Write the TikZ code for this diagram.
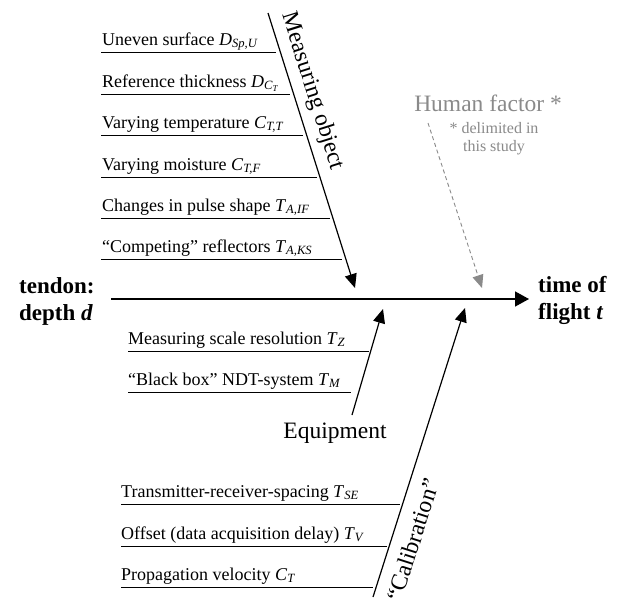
\documentclass[tikz,border=0pt]{standalone}
\usepackage{fontspec}
\setmainfont{Liberation Serif}
\usetikzlibrary{arrows.meta}
\newcommand{\sym}[2]{\textit{#1}\textsubscript{\textit{#2}}}
\definecolor{hgray}{RGB}{138,138,138}
\begin{document}
\begin{tikzpicture}[x=1pt,y=-1pt,
  lbl/.style={anchor=base west, inner sep=0pt, font=\fontsize{18}{20}\selectfont},
  uline/.style={line width=1pt},
  branch/.style={line width=1.2pt, -{Triangle[length=14pt,width=12pt]}},
  spine/.style={line width=1.5pt, -{Triangle[length=14pt,width=15pt]}},
  cat/.style={inner sep=0pt, font=\fontsize{23.5}{27}\selectfont},
  endlbl/.style={inner sep=0pt, anchor=north west, align=left, font=\fontsize{23}{27}\selectfont\bfseries},
  human/.style={line width=0.9pt, hgray, dash pattern=on 4pt off 3pt, -{Triangle[length=13pt,width=11pt]}}
]
\fill[white] (0,0) rectangle (621,597);
\useasboundingbox (0,0) rectangle (621,597);

% end labels and spine
\node[endlbl] (cause) at (19,277.5) {tendon:\\depth \textit{d}};
\node[endlbl] (effect) at (538,276.5) {time of\\flight \textit{t}};
\coordinate (sp0) at (111,299);
\coordinate (sp1) at (529,299);
\draw[spine] (sp0) -- (sp1);

% Measuring object branch
\coordinate (mo0) at (268,13);
\coordinate (mo1) at (355,288);
\draw[branch] (mo0) -- node[cat, sloped, above=7.5pt, pos=0.305] (molbl) {Measuring object} (mo1);

\node[lbl] (m1) at (102,45) {Uneven surface \sym{D}{Sp,U}};
\draw[uline] (101,52) -- (276,52);
\node[lbl] (m2) at (102,87) {Reference thickness \textit{D}\textsubscript{\textit{C}\textsubscript{\textit{T}}}};
\draw[uline] (101,94) -- (290,94);
\node[lbl] (m3) at (102,128) {Varying temperature \sym{C}{T,T}};
\draw[uline] (101,135) -- (303,135);
\node[lbl] (m4) at (102,170) {Varying moisture \sym{C}{T,F}};
\draw[uline] (101,177) -- (317,177);
\node[lbl] (m5) at (102,211) {Changes in pulse shape \sym{T}{A,IF}};
\draw[uline] (101,218) -- (330,218);
\node[lbl] (m6) at (102,252) {“Competing” reflectors \sym{T}{A,KS}};
\draw[uline] (101,259) -- (342,259);

% Human factor
\node[cat, hgray, anchor=base] (hf) at (488,111) {Human factor *};
\node[inner sep=0pt, hgray, anchor=north, align=center, font=\fontsize{16}{18}\selectfont] (hfnote) at (494,122) {* delimited in\\this study};
\coordinate (hf0) at (428,123);
\coordinate (hf1) at (482,288);
\draw[human] (hf0) -- (hf1);

% Equipment branch
\coordinate (eq0) at (352,415);
\coordinate (eq1) at (383,309);
\draw[branch] (eq0) -- (eq1);
\node[cat, anchor=base] (eqlbl) at (335,438) {Equipment};
\node[lbl] (e1) at (128,344) {Measuring scale resolution \sym{T}{Z}};
\draw[uline] (128,351) -- (369,351);
\node[lbl] (e2) at (128,385) {“Black box” NDT-system \sym{T}{M}};
\draw[uline] (128,392) -- (351,392);

% Calibration branch
\coordinate (ca0) at (373,597);
\coordinate (ca1) at (465,308);
\draw[branch] (ca0) -- node[cat, sloped, below=12pt, pos=0.22] (calbl) {“Calibration”} (ca1);
\node[lbl] (c1) at (121,497) {Transmitter-receiver-spacing \sym{T}{SE}};
\draw[uline] (121,504) -- (400,504);
\node[lbl] (c2) at (121,539) {Offset (data acquisition delay) \sym{T}{V}};
\draw[uline] (121,546) -- (387,546);
\node[lbl] (c3) at (121,580) {Propagation velocity \sym{C}{T}};
\draw[uline] (121,587) -- (373,587);
\end{tikzpicture}
\end{document}
